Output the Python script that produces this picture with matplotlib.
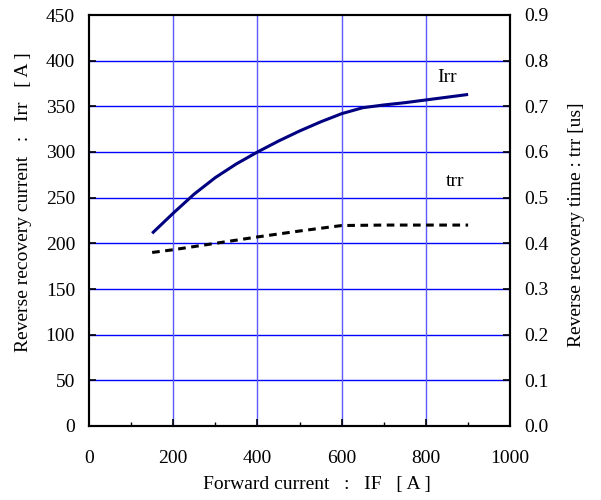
import matplotlib
matplotlib.use("Agg")
import matplotlib.pyplot as plt
from matplotlib.ticker import MultipleLocator, FormatStrFormatter

plt.rcParams['font.family'] = ['Liberation Serif', 'DejaVu Serif']

irr_x = [150, 200, 250, 300, 350, 400, 450, 500, 550, 600, 650, 700, 750, 800, 850, 900]
irr = [211, 233, 254, 272, 287, 300, 312, 323, 333, 342, 348.5, 351.5, 354, 357, 360, 363]
trr_x = [150, 200, 300, 400, 500, 600, 700, 800, 900]
trr = [0.380, 0.386, 0.400, 0.414, 0.427, 0.439, 0.440, 0.440, 0.440]

fig = plt.figure(figsize=(6.01, 5.0), dpi=100)
ax = fig.add_axes([0.148, 0.148, 0.701, 0.822])
ax2 = ax.twinx()

ax.set_xlim(0, 1000)
ax.set_ylim(0, 450)
ax2.set_ylim(0, 0.9)

for y in range(50, 450, 50):
    ax.axhline(y, color='#0000ff', lw=1.0, zorder=1)
for x in [200, 400, 600, 800]:
    ax.axvline(x, color='#5a5aff', lw=1.0, zorder=1)

ax.plot(irr_x, irr, color='#000080', lw=2.2, zorder=3, solid_capstyle='butt')
ax2.plot(trr_x, trr, color='black', lw=2.2, dashes=(2.5, 1.8), zorder=3)

ax.text(850, 372, 'Irr', fontsize=14, ha='center', va='bottom')
ax.text(870, 258, 'trr', fontsize=14, ha='center', va='bottom')

ax.xaxis.set_major_locator(MultipleLocator(200))
ax.xaxis.set_minor_locator(MultipleLocator(100))
ax.yaxis.set_major_locator(MultipleLocator(50))
ax2.yaxis.set_major_locator(MultipleLocator(0.1))
ax2.yaxis.set_major_formatter(FormatStrFormatter('%.1f'))

ax.tick_params(axis='x', which='major', direction='in', length=5, width=1.2, labelsize=14, pad=17)
ax.tick_params(axis='x', which='minor', direction='in', length=3, width=1.0)
ax.tick_params(axis='y', direction='in', length=5, width=1.2, labelsize=14, pad=10)
ax2.tick_params(axis='y', direction='in', length=5, width=1.2, labelsize=14, pad=10)

for a in (ax, ax2):
    for s in a.spines.values():
        s.set_linewidth(1.5)

ax.set_xlabel('Forward current   :   IF   [ A ]', fontsize=14, labelpad=7)
ax.xaxis.label.set_x(0.542)
ax.set_ylabel('Reverse recovery current   :   Irr   [ A ]', fontsize=14, labelpad=10)
ax.yaxis.label.set_y(0.545)
ax2.set_ylabel('Reverse recovery time : trr [us]', fontsize=14, labelpad=14)
ax2.yaxis.label.set_y(0.49)

fig.savefig('out.png', dpi=100)
